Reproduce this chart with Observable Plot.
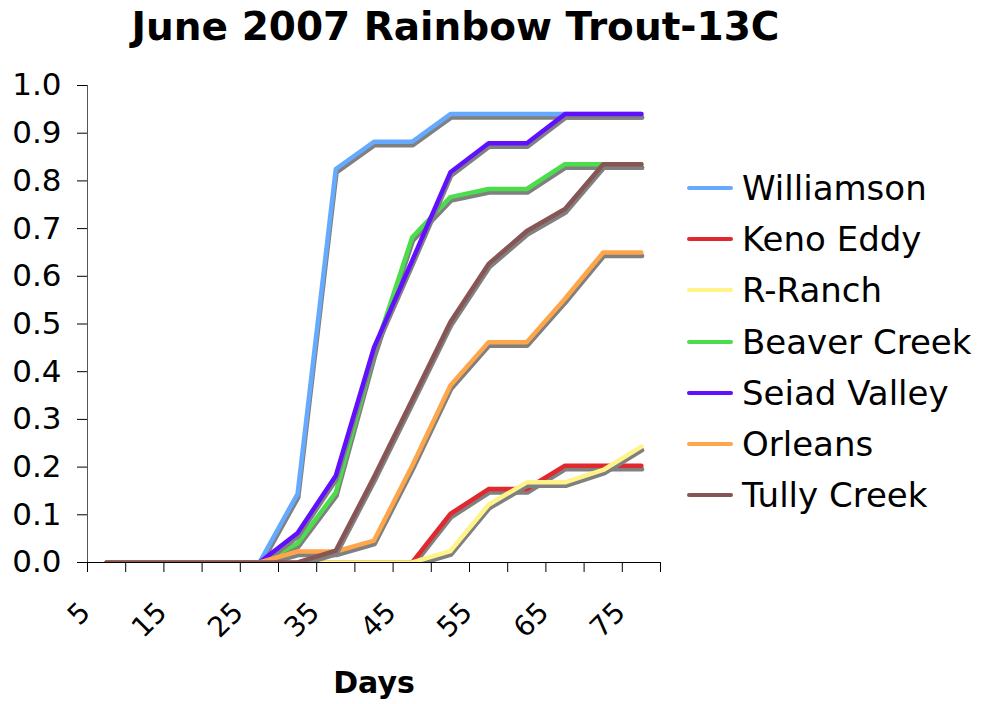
<!DOCTYPE html>
<html>
<head>
<meta charset="utf-8">
<script src="https://cdn.jsdelivr.net/npm/d3@7"></script>
<script src="https://cdn.jsdelivr.net/npm/@observablehq/plot@0.6"></script>
<style>
  html, body { margin: 0; padding: 0; background: #fff; }
  #chart { position: relative; width: 981px; height: 704px; overflow: hidden; font-family: "DejaVu Sans", Verdana, sans-serif; }
  #title { position: absolute; top: 7px; left: 0; width: 911px; text-align: center; font-weight: bold; font-size: 39px; line-height: 1; color: #000; }
  #plot { position: absolute; top: 0; left: 0; }
  #legend { position: absolute; left: 687px; top: 162px; }
  .row { height: 51.3px; display: flex; align-items: center; }
  .sw { width: 46px; height: 4px; border-radius: 2px; margin-right: 9px; }
  .lb { font-size: 34px; color: #000; line-height: 1; }
</style>
</head>
<body>
<div id="chart">
  <div id="title">June 2007 Rainbow Trout-13C</div>
  <div id="plot"></div>
  <div id="legend"></div>
</div>
<script>
// ---- data ----
const days = [5, 10, 15, 20, 25, 30, 35, 40, 45, 50, 55, 60, 65, 70, 75];
const sites = ["Williamson", "Keno Eddy", "R-Ranch", "Beaver Creek", "Seiad Valley", "Orleans", "Tully Creek"];
const siteColors = ["#66aaff", "#e0282e", "#fff38a", "#4cdd4c", "#6010ff", "#ffa64a", "#885555"];
const williamson  = [0, 0, 0, 0, 0, 0.144, 0.825, 0.882, 0.882, 0.94, 0.94, 0.94, 0.94, 0.94, 0.94];
const kenoEddy    = [0, 0, 0, 0, 0, 0, 0, 0, 0, 0.102, 0.154, 0.154, 0.203, 0.203, 0.203];
const rRanch      = [0, 0, 0, 0, 0, 0, 0, 0, 0, 0.024, 0.121, 0.168, 0.168, 0.194, 0.243];
const beaverCreek = [0, 0, 0, 0, 0, 0.04, 0.147, 0.438, 0.682, 0.766, 0.783, 0.783, 0.835, 0.835, 0.835];
const seiadValley = [0, 0, 0, 0, 0, 0.062, 0.182, 0.451, 0.633, 0.818, 0.879, 0.879, 0.94, 0.94, 0.94];
const orleans     = [0, 0, 0, 0, 0, 0.023, 0.023, 0.046, 0.203, 0.371, 0.462, 0.462, 0.553, 0.65, 0.65];
const tullyCreek  = [0, 0, 0, 0, 0, 0, 0.025, 0.179, 0.341, 0.504, 0.626, 0.695, 0.741, 0.835, 0.835];
const xTickLabels = [5, 15, 25, 35, 45, 55, 65, 75];
const xTickMarks = [2.5, 7.5, 12.5, 17.5, 22.5, 27.5, 32.5, 37.5, 42.5, 47.5, 52.5, 57.5, 62.5, 67.5, 72.5, 77.5];
const yTicks = [0, 0.1, 0.2, 0.3, 0.4, 0.5, 0.6, 0.7, 0.8, 0.9, 1.0];
const xAxisTitle = "Days";

const seriesValues = [williamson, kenoEddy, rRanch, beaverCreek, seiadValley, orleans, tullyCreek];
const table = sites.map((site, i) => days.map((day, j) => ({site, day, value: seriesValues[i][j]})));

const lineMarks = sites.flatMap((site, i) => [
  Plot.line(table[i], {x: "day", y: "value", stroke: "#808080", strokeWidth: 4.5, dx: 0.7, dy: 3.5, strokeLinejoin: "round", strokeLinecap: "round", clip: true}),
  Plot.line(table[i], {x: "day", y: "value", stroke: siteColors[i], strokeWidth: 4.5, strokeLinejoin: "round", strokeLinecap: "round", clip: true})
]);

const chart = Plot.plot({
  width: 981,
  height: 704,
  marginTop: 85,
  marginBottom: 142,
  marginLeft: 87,
  marginRight: 321,
  style: {fontFamily: "DejaVu Sans, Verdana, sans-serif", color: "#000", background: "transparent", overflow: "visible"},
  x: {type: "linear", domain: [xTickMarks[0], xTickMarks[xTickMarks.length - 1]], axis: null},
  y: {domain: [0, 1], axis: null},
  marks: [
    Plot.axisY({ticks: yTicks, tickFormat: d3.format(".1f"), tickSize: 10, tickPadding: 16, fontSize: 31, stroke: "#000", label: null}),
    Plot.axisX({ticks: xTickMarks, tickSize: 10, tickFormat: () => "", stroke: "#000", label: null}),
    Plot.text(xTickLabels, {x: d => d, frameAnchor: "bottom", rotate: -45, textAnchor: "end", lineAnchor: "middle", dx: -21, dy: 45, fontSize: 28}),
    Plot.text([xAxisTitle], {frameAnchor: "bottom", dy: 121, fontSize: 30, fontWeight: "bold", lineAnchor: "middle"}),
    Plot.ruleX([xTickMarks[0]], {stroke: "#555"}),
    ...lineMarks,
    Plot.ruleY([0], {stroke: "#000"})
  ]
});
document.getElementById("plot").appendChild(chart);

const legend = document.getElementById("legend");
sites.forEach((s, i) => {
  const row = document.createElement("div");
  row.className = "row";
  row.innerHTML = `<div class="sw" style="background:${siteColors[i]}"></div><div class="lb">${s}</div>`;
  legend.appendChild(row);
});
</script>
</body>
</html>
